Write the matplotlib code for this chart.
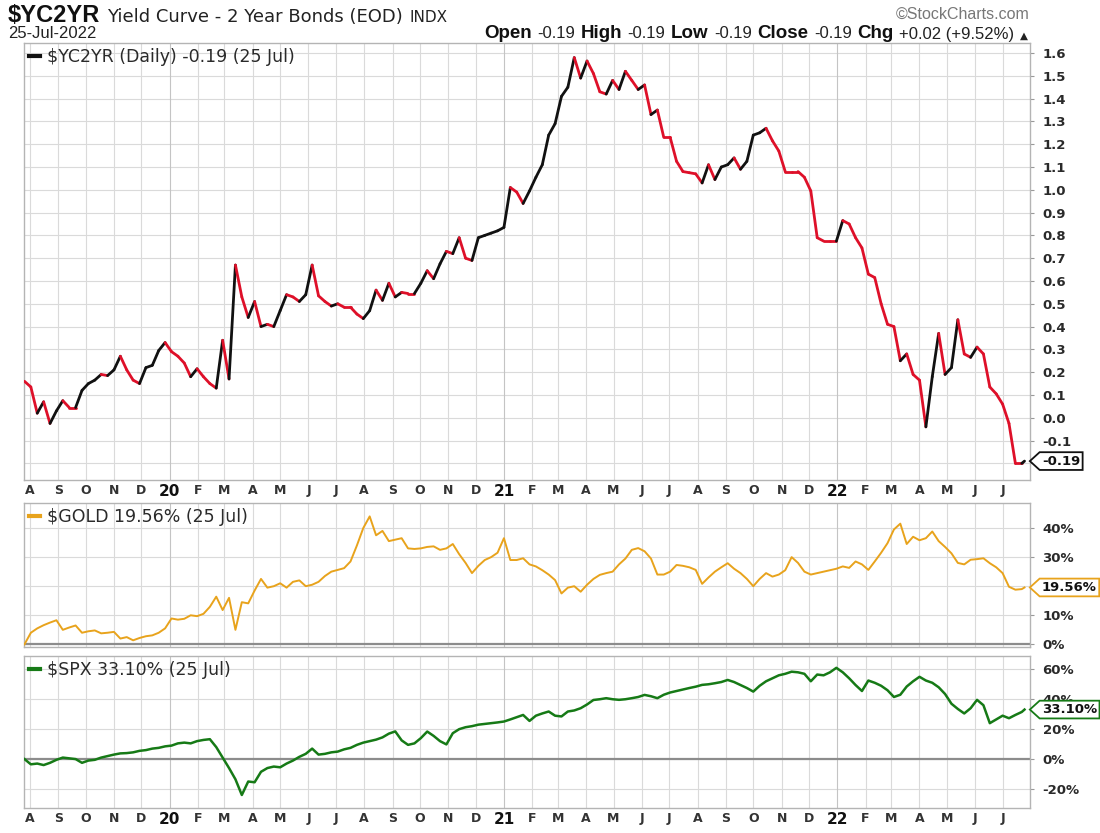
import numpy as np
import pandas as pd
import matplotlib
matplotlib.use("Agg")
import matplotlib.pyplot as plt
import matplotlib.dates as mdates
from matplotlib.collections import LineCollection
from matplotlib.lines import Line2D
from matplotlib.path import Path
from matplotlib.offsetbox import TextArea, HPacker, AnnotationBbox
from matplotlib.transforms import blended_transform_factory

# ---------------- data (weekly readings, last point 25 Jul 2022) ----------------
dates = list(pd.date_range("2019-07-26", "2022-07-22", freq="W-FRI")) + [pd.Timestamp("2022-07-25")]

yc2yr = [
    0.16, 0.135, 0.02, 0.07, -0.025, 0.03, 0.075, 0.045, 0.045, 0.12,
    0.15, 0.165, 0.19, 0.185, 0.21, 0.27, 0.21, 0.165, 0.15, 0.22,
    0.23, 0.295, 0.33, 0.29, 0.27, 0.24, 0.18, 0.215, 0.18, 0.15,
    0.13, 0.34, 0.17, 0.67, 0.53, 0.44, 0.51, 0.40, 0.41, 0.40,
    0.47, 0.54, 0.53, 0.51, 0.54, 0.67, 0.535, 0.51, 0.49, 0.50,
    0.485, 0.485, 0.455, 0.435, 0.47, 0.56, 0.515, 0.59, 0.53, 0.55,
    0.545, 0.545, 0.59, 0.645, 0.61, 0.675, 0.73, 0.72, 0.79, 0.70,
    0.69, 0.79, 0.80, 0.81, 0.82, 0.835, 1.01, 0.99, 0.94, 0.995,
    1.055, 1.11, 1.24, 1.29, 1.41, 1.45, 1.58, 1.49, 1.565, 1.51,
    1.43, 1.42, 1.48, 1.44, 1.52, 1.48, 1.44, 1.46, 1.33, 1.35,
    1.23, 1.23, 1.125, 1.08, 1.075, 1.07, 1.03, 1.11, 1.045, 1.10,
    1.11, 1.14, 1.09, 1.125, 1.24, 1.25, 1.27, 1.215, 1.17, 1.08,
    1.08, 1.08, 1.055, 0.995, 0.79, 0.775, 0.775, 0.775, 0.865, 0.85,
    0.79, 0.745, 0.63, 0.615, 0.50, 0.41, 0.40, 0.25, 0.28, 0.19,
    0.165, -0.04, 0.18, 0.37, 0.19, 0.22, 0.43, 0.28, 0.265, 0.31,
    0.28, 0.135, 0.105, 0.06, -0.025, -0.20, -0.20, -0.19,
]

gold = [
    0.0, 4.0, 5.5, 6.6, 7.5, 8.3, 5.0, 5.8, 6.5, 4.0,
    4.5, 4.8, 3.8, 4.0, 4.3, 2.0, 2.5, 1.4, 2.2, 2.8,
    3.1, 4.0, 5.5, 8.9, 8.5, 8.8, 10.0, 9.7, 10.5, 12.9,
    16.4, 11.8, 16.0, 5.0, 14.5, 14.1, 18.5, 22.5, 19.5, 20.0,
    21.0, 19.5, 21.5, 22.0, 20.0, 20.5, 21.5, 23.5, 25.0, 25.6,
    26.2, 28.5, 34.0, 40.0, 44.0, 37.5, 39.0, 35.5, 36.0, 36.5,
    33.0, 32.8, 33.0, 33.5, 33.7, 32.5, 33.0, 34.5, 31.0, 28.0,
    24.5, 27.0, 29.0, 30.0, 31.5, 36.5, 29.0, 29.0, 29.6, 27.5,
    26.8, 25.5, 24.0, 22.1, 17.5, 19.5, 20.0, 18.1, 20.5, 22.5,
    23.9, 24.5, 25.0, 27.5, 29.5, 32.5, 33.1, 32.0, 29.5, 24.0,
    24.0, 25.0, 27.3, 27.0, 26.5, 25.6, 20.8, 23.0, 25.0, 26.5,
    27.9, 26.0, 24.5, 22.5, 20.0, 22.5, 24.5, 23.3, 24.0, 25.5,
    30.0, 28.0, 25.0, 24.0, 24.5, 25.0, 25.5, 26.0, 26.8, 26.3,
    28.5, 27.5, 25.6, 28.5, 31.5, 34.8, 39.5, 41.5, 34.5, 37.0,
    35.8, 36.5, 38.8, 35.5, 33.5, 31.3, 28.0, 27.5, 29.1, 29.3,
    29.6, 27.9, 26.5, 24.5, 19.8, 18.8, 19.0, 19.56,
]

spx = [
    0.0, -3.5, -3.0, -4.0, -2.5, -0.5, 1.0, 0.5, 0.0, -2.5,
    -1.0, -0.5, 1.0, 2.0, 3.0, 3.8, 4.0, 4.5, 5.5, 6.0,
    7.0, 7.5, 8.5, 9.0, 10.5, 11.0, 10.5, 12.0, 12.8, 13.3,
    8.0, 1.0, -6.0, -13.5, -24.0, -15.0, -15.5, -8.5, -6.0, -5.0,
    -5.5, -3.0, -1.0, 1.5, 3.5, 7.0, 3.0, 3.5, 4.5, 5.0,
    6.5, 7.5, 9.5, 11.0, 12.0, 13.0, 14.5, 17.0, 18.5, 12.5,
    9.5, 10.5, 14.0, 18.4, 15.5, 12.0, 9.8, 17.3, 20.0, 21.3,
    22.0, 23.0, 23.5, 24.0, 24.5, 25.1, 26.5, 28.0, 29.5, 25.5,
    29.0, 30.5, 31.8, 29.0, 28.5, 31.8, 32.5, 34.0, 36.5, 39.5,
    40.0, 40.7, 40.0, 39.6, 40.0, 40.7, 41.5, 42.9, 42.0, 40.7,
    43.0, 44.5, 45.5, 46.5, 47.5, 48.4, 49.6, 50.0, 50.7, 51.5,
    52.9, 51.5, 49.5, 47.5, 45.1, 49.0, 52.0, 54.0, 56.0, 57.0,
    58.4, 58.0, 57.0, 52.0, 56.5, 56.0, 58.0, 61.0, 58.0, 54.0,
    49.5, 45.5, 52.5, 51.0, 49.0, 46.0, 41.5, 43.0, 48.5, 52.0,
    55.0, 52.5, 51.0, 48.0, 43.5, 37.0, 33.5, 30.5, 34.0, 39.6,
    36.0, 24.0, 26.5, 29.0, 27.3, 29.5, 31.5, 33.10,
]

main_ticks = [-0.2, -0.1, 0.0, 0.1, 0.2, 0.3, 0.4, 0.5, 0.6, 0.7, 0.8,
              0.9, 1.0, 1.1, 1.2, 1.3, 1.4, 1.5, 1.6]
gold_ticks = [0, 10, 20, 30, 40]
spx_ticks = [-20, 0, 20, 40, 60]
month_starts = pd.date_range("2019-08-01", "2022-07-01", freq="MS")
month_letters = ["J", "F", "M", "A", "M", "J", "J", "A", "S", "O", "N", "D"]

# ---------------- styling ----------------
RED = "#de1029"
BLACK = "#111111"
GOLD_C = "#e8a31c"
GREEN = "#167a16"
GRID = "#dadada"
FRAME = "#b4b4b4"
TXT = "#2a2a2a"

fig = plt.figure(figsize=(11, 8.33), dpi=100)
W, H = 1100, 833


def axpos(top, bottom, left=24, right=1030):
    return [left / W, 1 - bottom / H, (right - left) / W, (bottom - top) / H]


ax1 = fig.add_axes(axpos(43, 480))
ax2 = fig.add_axes(axpos(503, 647))
ax3 = fig.add_axes(axpos(656, 808))

xd = mdates.date2num(dates)
xmin, xmax = xd[0] - 0.5, xd[-1] + 6
mx = mdates.date2num(month_starts)


def tag_box(x0, y0, width, height, mutation_size):
    pad = mutation_size * 0.18
    x0 -= pad
    y0 -= pad
    width += 2 * pad
    height += 2 * pad
    tip = height * 0.55
    verts = [(x0 - tip, y0 + height / 2), (x0, y0), (x0 + width, y0),
             (x0 + width, y0 + height), (x0, y0 + height), (x0 - tip, y0 + height / 2)]
    codes = [Path.MOVETO, Path.LINETO, Path.LINETO, Path.LINETO, Path.LINETO, Path.CLOSEPOLY]
    return Path(verts, codes)


def style_axes(ax, yticks, ylabels, ylim, show_x):
    ax.set_xlim(xmin, xmax)
    ax.set_ylim(*ylim)
    ax.set_facecolor("white")
    for s in ax.spines.values():
        s.set_color(FRAME)
        s.set_linewidth(1.0)
    ax.yaxis.tick_right()
    ax.set_yticks(yticks)
    ax.set_yticklabels(ylabels)
    ax.tick_params(axis="y", length=3, width=0.8, color="#999999", pad=6,
                   labelsize=9.5, labelcolor=TXT)
    for lab in ax.get_yticklabels():
        lab.set_fontweight("bold")
    for t in yticks:
        ax.axhline(t, color=GRID, lw=0.8, zorder=0)
    for m, d in zip(mx, month_starts):
        ax.axvline(m, color="#c4c4c4" if d.month == 1 else GRID, lw=0.8, zorder=0)
    ax.set_xticks(mx)
    if show_x:
        labs = [("%02d" % (d.year % 100)) if d.month == 1 else month_letters[d.month - 1]
                for d in month_starts]
        ax.set_xticklabels(labs)
        for lab, d in zip(ax.get_xticklabels(), month_starts):
            lab.set_fontweight("bold")
            if d.month == 1:
                lab.set_fontsize(11)
                lab.set_color("#111111")
            else:
                lab.set_fontsize(9)
                lab.set_color("#333333")
        ax.tick_params(axis="x", length=0, pad=3)
    else:
        ax.set_xticklabels([])
        ax.tick_params(axis="x", length=0)


def add_legend(ax, color, label):
    ax.legend(handles=[Line2D([], [], color=color, lw=3)], labels=[label],
              loc="upper left", frameon=False, handlelength=0.6, handletextpad=0.4,
              borderaxespad=0.1, borderpad=0.2, prop={"size": 12.5}, labelcolor=TXT)


# main panel
style_axes(ax1, main_ticks, [""] + ["%.1f" % t for t in main_ticks[1:]], (-0.273, 1.644), True)
y = np.array(yc2yr)
pts = np.column_stack([xd, y])
segs = np.stack([pts[:-1], pts[1:]], axis=1)
cols = [BLACK if y[i + 1] > y[i] else RED for i in range(len(y) - 1)]
lc = LineCollection(segs, colors=cols, linewidths=2.0, capstyle="round", joinstyle="round", zorder=3)
ax1.add_collection(lc)
add_legend(ax1, BLACK, "$YC2YR (Daily) -0.19 (25 Jul)")

# gold panel
style_axes(ax2, gold_ticks, ["0%", "10%", "", "30%", "40%"], (-0.9, 48.6), False)
ax2.axhline(0, color="#8c8c8c", lw=1.6, zorder=1)
ax2.plot(xd, gold, color=GOLD_C, lw=1.4, zorder=3)
add_legend(ax2, GOLD_C, "$GOLD 19.56% (25 Jul)")

# spx panel
style_axes(ax3, spx_ticks, ["-20%", "0%", "20%", "40%", "60%"], (-32.7, 68.9), True)
ax3.axhline(0, color="#8c8c8c", lw=1.6, zorder=1)
ax3.plot(xd, spx, color=GREEN, lw=1.8, zorder=3)
add_legend(ax3, GREEN, "$SPX 33.10% (25 Jul)")

# value tags
for ax, val, txt, ec in [(ax1, yc2yr[-1], "-0.19", BLACK),
                         (ax2, gold[-1], "19.56%", GOLD_C),
                         (ax3, spx[-1], "33.10%", GREEN)]:
    tr = blended_transform_factory(ax.transAxes, ax.transData)
    ax.text(1.0 + 12 / 1006, val, txt, transform=tr, ha="left", va="center",
            fontsize=9.5, fontweight="bold", color="#111111", zorder=10, clip_on=False,
            bbox=dict(boxstyle=tag_box, fc="white", ec=ec, lw=1.3))

# header
hdr = HPacker(children=[
    TextArea("$YC2YR", textprops=dict(family="Liberation Sans", size=17, weight="bold", color="#111")),
    TextArea("Yield Curve - 2 Year Bonds (EOD)", textprops=dict(family="DejaVu Sans", size=13, color="#222")),
    TextArea("INDX", textprops=dict(family="DejaVu Sans", size=11, color="#222")),
], align="baseline", pad=0, sep=5)
fig.add_artist(AnnotationBbox(hdr, (8 / W, 1 - 15 / H), xycoords="figure fraction",
                              box_alignment=(0, 0.5), frameon=False, pad=0))
fig.text(8 / W, 1 - 33 / H, "25-Jul-2022", family="Liberation Sans", fontsize=12, color="#222",
         ha="left", va="center")
fig.text(1030 / W, 1 - 14 / H, "\u00a9StockCharts.com", family="Liberation Sans", fontsize=11.5,
         color="#777777", ha="right", va="center")

parts = []
for lab, val in [("Open", "-0.19"), ("High", "-0.19"), ("Low", "-0.19"), ("Close", "-0.19"),
                 ("Chg", "+0.02 (+9.52%)")]:
    parts.append(TextArea(lab, textprops=dict(family="Liberation Sans", size=13.5, weight="bold", color="#111")))
    parts.append(TextArea(val, textprops=dict(family="Liberation Sans", size=12, color="#222")))
parts.append(TextArea("\u25b2", textprops=dict(family="DejaVu Sans", size=7.5, color="#222")))
ohlc = HPacker(children=parts, align="baseline", pad=0, sep=4)
fig.add_artist(AnnotationBbox(ohlc, (1028 / W, 1 - 34 / H), xycoords="figure fraction",
                              box_alignment=(1, 0.5), frameon=False, pad=0))

fig.savefig("out.png", dpi=100, facecolor="white")
